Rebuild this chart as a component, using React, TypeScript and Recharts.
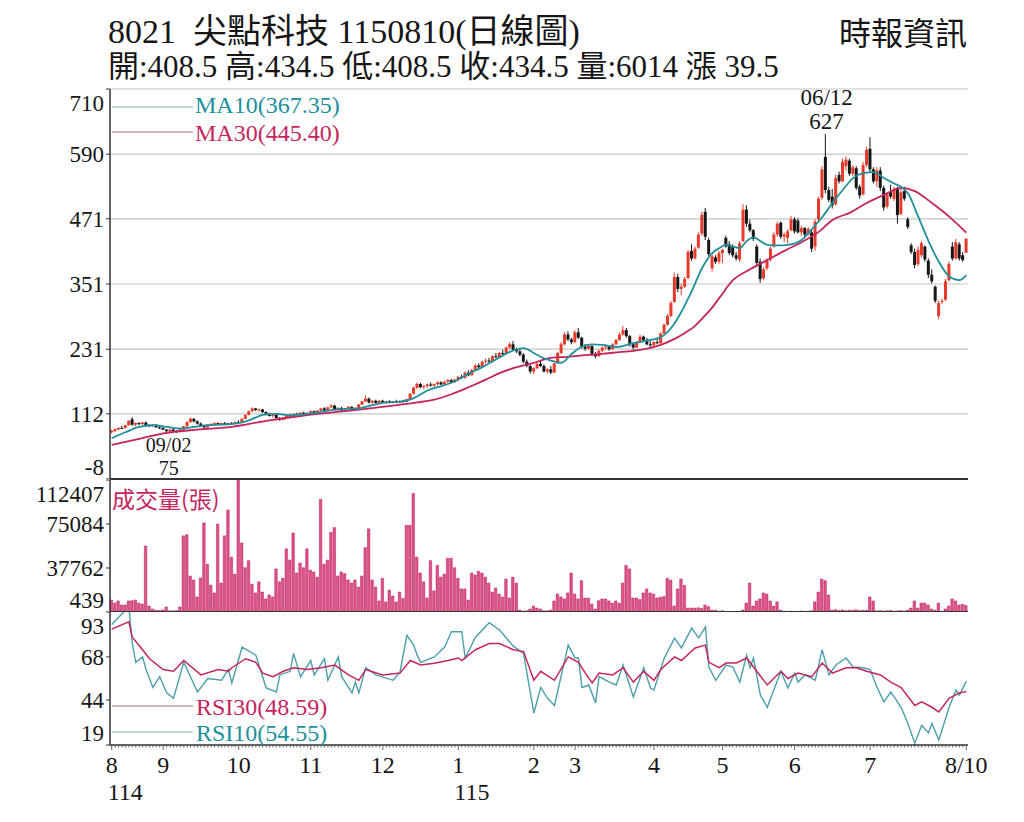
import React from "react";
import {
  ComposedChart,
  Bar,
  Line,
  XAxis,
  YAxis,
  CartesianGrid,
  ReferenceLine,
  ReferenceDot,
} from "recharts";

// OHLC per trading day, [open, high, low, close]
const aug114 = [
  [78, 82, 76, 81], [80, 85, 79, 84], [83, 87, 82, 86], [86, 90, 84, 85], [86, 92, 85, 91],
  [91, 100, 90, 99], [102, 106, 90, 92], [92, 96, 89, 95], [95, 97, 91, 93], [93, 97, 92, 96],
  [96, 98, 90, 91], [91, 93, 88, 90], [90, 93, 88, 92], [92, 93, 86, 87], [87, 89, 84, 86],
];
const sep114 = [
  [86, 88, 82, 83], [83, 84, 75, 80], [80, 84, 78, 83], [83, 85, 79, 80], [80, 82, 77, 79],
  [79, 84, 78, 83], [83, 90, 82, 89], [89, 98, 88, 97], [97, 105, 95, 103], [103, 104, 96, 98],
  [98, 100, 92, 94], [94, 96, 88, 90], [90, 92, 84, 87], [87, 93, 86, 92], [92, 95, 90, 93],
  [93, 96, 91, 95], [95, 96, 91, 92], [92, 96, 91, 95], [95, 97, 92, 93], [93, 96, 92, 95],
  [95, 97, 92, 94], [94, 98, 93, 97],
];
const oct114 = [
  [97, 100, 94, 95], [96, 104, 95, 103], [103, 111, 102, 110], [110, 118, 109, 117], [117, 124, 115, 122],
  [122, 123, 117, 119], [119, 122, 116, 120], [120, 121, 114, 115], [115, 117, 110, 112], [112, 114, 107, 108],
  [108, 112, 105, 110], [110, 111, 103, 104], [104, 106, 99, 101], [101, 106, 100, 105], [105, 110, 104, 109],
  [109, 112, 106, 107], [107, 113, 106, 112], [112, 114, 109, 110], [110, 115, 109, 114], [114, 116, 110, 111],
  [111, 115, 110, 114],
];
const nov114 = [
  [114, 118, 112, 117], [117, 118, 112, 113], [113, 119, 112, 118], [118, 123, 117, 122], [122, 124, 117, 118],
  [118, 125, 117, 124], [124, 130, 122, 127], [127, 129, 119, 120], [120, 124, 118, 123], [123, 125, 117, 118],
  [118, 122, 116, 121], [121, 126, 120, 125], [125, 126, 117, 118], [118, 124, 117, 123], [123, 130, 122, 129],
  [129, 136, 128, 135], [135, 146, 134, 140], [140, 142, 131, 133], [133, 137, 130, 136], [136, 138, 131, 132],
  [132, 137, 131, 136],
];
const dec114 = [
  [136, 138, 132, 133], [133, 136, 130, 135], [135, 137, 131, 132], [132, 136, 131, 135], [135, 138, 132, 133],
  [133, 137, 132, 136], [136, 138, 133, 134], [134, 140, 133, 139], [139, 150, 138, 149], [149, 162, 148, 160],
  [160, 170, 158, 167], [167, 169, 159, 161], [161, 165, 157, 163], [163, 168, 160, 166], [166, 170, 162, 164],
  [164, 168, 161, 167], [167, 172, 164, 170], [170, 172, 165, 166], [166, 172, 165, 171], [171, 176, 169, 174],
  [174, 176, 168, 170], [170, 176, 169, 175],
];
const jan115 = [
  [175, 182, 172, 180], [180, 184, 176, 178], [178, 190, 177, 188], [188, 192, 181, 183], [183, 195, 182, 193],
  [193, 203, 192, 201], [201, 205, 196, 198], [198, 210, 197, 208], [208, 214, 204, 210], [210, 215, 206, 208],
  [208, 220, 207, 218], [218, 224, 214, 216], [216, 226, 215, 224], [224, 230, 220, 222], [222, 236, 221, 234],
  [234, 244, 232, 240], [240, 246, 228, 230], [230, 234, 224, 227], [227, 231, 218, 221], [221, 224, 205, 208],
  [208, 212, 198, 200], [200, 202, 186, 190],
];
const feb115 = [
  [190, 198, 185, 196], [196, 206, 194, 204], [204, 210, 198, 200], [200, 203, 188, 190], [190, 196, 186, 194],
  [194, 200, 185, 188], [188, 206, 187, 205], [205, 226, 204, 224], [224, 244, 222, 240], [240, 262, 238, 258],
  [258, 264, 246, 249], [249, 252, 240, 244],
];
const mar115 = [
  [244, 266, 242, 262], [262, 270, 250, 252], [252, 254, 232, 236], [236, 240, 228, 232], [232, 240, 230, 237],
  [237, 238, 218, 222], [222, 226, 214, 218], [218, 230, 217, 228], [228, 236, 226, 234], [234, 240, 230, 236],
  [236, 238, 228, 231], [231, 242, 230, 240], [240, 250, 238, 248], [248, 262, 246, 258], [258, 274, 256, 266],
  [266, 270, 252, 255], [255, 257, 236, 240], [240, 244, 230, 234], [234, 246, 233, 244], [244, 258, 242, 254],
  [254, 256, 244, 248], [248, 252, 238, 240], [240, 246, 234, 238],
];
const apr115 = [
  [238, 246, 236, 244], [244, 252, 240, 242], [242, 262, 241, 260], [260, 278, 258, 276], [276, 296, 274, 292],
  [292, 320, 290, 316], [318, 372, 316, 364], [364, 370, 336, 342], [342, 352, 330, 346], [346, 364, 344, 360],
  [362, 414, 360, 410], [412, 424, 394, 398], [398, 420, 396, 416], [418, 446, 416, 442], [444, 484, 440, 478],
  [484, 491, 432, 438], [432, 436, 402, 406], [380, 406, 374, 402], [400, 404, 388, 392], [392, 412, 388, 408],
];
const may115 = [
  [408, 416, 390, 414], [436, 440, 418, 420], [424, 430, 404, 408], [420, 424, 400, 404], [404, 410, 394, 398],
  [396, 430, 392, 426], [430, 498, 428, 488], [488, 496, 456, 462], [462, 470, 446, 450], [450, 452, 430, 434],
  [420, 424, 384, 390], [392, 398, 353, 360], [362, 382, 358, 378], [380, 398, 376, 394], [396, 420, 392, 416],
  [420, 446, 418, 442], [442, 466, 438, 462], [464, 466, 434, 438], [438, 446, 428, 442], [436, 452, 426, 448],
  [450, 476, 448, 470],
];
const jun115 = [
  [470, 474, 444, 448], [468, 472, 444, 446], [446, 458, 440, 454], [454, 456, 438, 442], [442, 456, 440, 452],
  [446, 450, 410, 416], [420, 470, 412, 466], [470, 512, 466, 508], [510, 568, 506, 562], [585, 627, 518, 524],
  [524, 530, 502, 506], [512, 526, 490, 496], [498, 552, 496, 546], [552, 558, 536, 540], [540, 582, 538, 576],
  [568, 586, 560, 580], [578, 582, 550, 554], [554, 570, 550, 566], [564, 568, 524, 528], [530, 534, 508, 514],
  [516, 576, 514, 570], [570, 604, 566, 598],
];
const jul115 = [
  [600, 621, 556, 562], [562, 566, 536, 540], [540, 566, 530, 560], [560, 566, 522, 528], [528, 532, 486, 492],
  [494, 520, 490, 516], [520, 534, 508, 512], [508, 530, 504, 526], [526, 530, 462, 478], [480, 528, 478, 520],
  [522, 530, 504, 508], [470, 474, 452, 456], [422, 426, 406, 410], [410, 416, 380, 386], [388, 420, 384, 414],
  [404, 430, 400, 426], [420, 422, 392, 396], [394, 398, 362, 368], [368, 378, 352, 356], [346, 348, 316, 320],
  [292, 320, 286, 316], [318, 324, 314, 320], [322, 360, 320, 356],
];
const aug115 = [
  [358, 392, 356, 388], [420, 428, 394, 398], [398, 434, 396, 428], [424, 428, 394, 398], [404, 410, 392, 395],
  [408.5, 434.5, 408.5, 434.5],
];

// 成交量(張)
const volAug114 = [10600, 8000, 9800, 6400, 6400, 9800, 10000, 10600, 8000, 7200, 56400, 5500, 3000, 2000, 1800];
const volSep114 = [2200, 4700, 1500, 1400, 1600, 4700, 65000, 66000, 31000, 27600, 13200, 29300, 76000, 41000, 23300, 16600, 75000, 25000, 65000, 87000, 47000, 32600];
const volOct114 = [112407, 59000, 38000, 44000, 24000, 16600, 26000, 17400, 11500, 14900, 13200, 37000, 26000, 29000, 54000, 44500, 67500, 33500, 42000, 38000, 54000];
const volNov114 = [36000, 34400, 30000, 96000, 41000, 44500, 68000, 72000, 31000, 34400, 33000, 27600, 25000, 27600, 21600, 31000, 55000, 71000, 27600, 21600, 9800];
const volDec114 = [29000, 9000, 19000, 14000, 9000, 17400, 12000, 74000, 74000, 101000, 47000, 33500, 26000, 12300, 44000, 18300, 40000, 30000, 32600, 46000, 46000, 38000];
const volJan115 = [29000, 20000, 20000, 10600, 33500, 31800, 35000, 33500, 30000, 25000, 17400, 20800, 15700, 13200, 28400, 12300, 30000, 25000, 2100, 1300, 1500, 3000];
const volFeb115 = [5500, 3800, 3000, 1500, 1500, 2100, 9800, 15700, 13200, 11500, 16600, 33500];
const volMar115 = [15700, 11500, 27000, 12300, 12300, 7200, 3000, 10000, 11500, 11500, 9800, 8000, 9800, 8000, 25000, 40000, 37000, 12300, 12300, 11000, 16600, 20000, 16600];
const volApr115 = [15700, 12300, 13000, 13500, 29000, 27500, 5500, 20000, 28400, 23000, 3800, 3800, 3800, 4000, 3500, 6400, 5000, 2000, 2000, 1200];
const volMay115 = [1500, 800, 600, 700, 900, 600, 2100, 8000, 25000, 5500, 9800, 11500, 16600, 15700, 9800, 5500, 9000, 2100, 1100, 900, 1200];
const volJun115 = [800, 1000, 1300, 900, 1100, 1500, 9000, 17400, 28400, 27000, 14900, 2100, 2400, 1800, 2200, 1600, 2000, 1900, 2300, 1700, 1800, 2000];
const volJul115 = [13200, 9800, 1400, 1600, 1300, 1500, 1700, 1200, 1400, 1600, 1300, 2100, 3800, 9800, 3800, 8000, 8000, 6400, 3000, 2000, 8000, 1000, 3000];
const volAug115 = [5500, 11500, 9800, 6400, 7000, 6014];

// moving averages and RSI, [day index, value]
const ma10Pts = [
  [0, 67], [4, 78], [8, 88], [12, 91], [16, 88], [20, 85], [24, 88], [28, 91], [32, 92], [36, 94],
  [40, 100], [44, 110], [48, 112], [52, 109], [56, 111], [60, 114], [64, 119], [68, 121], [72, 122], [76, 128],
  [80, 133], [84, 134], [88, 141], [92, 155], [96, 163], [100, 172], [104, 186], [108, 198], [112, 212], [116, 226],
  [120, 233], [123, 224], [126, 214], [128, 210], [131, 206], [134, 222], [137, 236], [140, 240], [143, 239], [147, 235],
  [152, 242], [157, 248], [160, 253], [163, 270], [166, 300], [169, 338], [172, 380], [175, 408], [177, 417], [179, 423],
  [181, 420], [183, 417], [185, 430], [187, 437], [189, 430], [191, 423], [194, 422], [197, 423], [201, 432], [204, 452],
  [207, 474], [210, 500], [213, 524], [216, 546], [219, 555], [222, 557], [225, 546], [228, 536], [230, 530], [232, 518],
  [235, 475], [238, 430], [241, 392], [244, 365], [247, 358], [249, 367.35],
];
const ma30Pts = [
  [0, 55], [8, 66], [16, 77], [25, 83], [35, 88], [45, 99], [55, 108], [65, 115], [74, 121], [82, 127],
  [89, 133], [94, 138], [99, 148], [104, 161], [109, 175], [113, 187], [118, 198], [123, 206], [128, 215], [133, 217],
  [138, 220], [142, 222], [147, 225], [152, 228], [156, 232], [160, 239], [164, 250], [167, 261], [170, 274], [172, 287],
  [175, 308], [177, 325], [181, 358], [186, 378], [191, 395], [196, 412], [201, 428], [206, 447], [210, 469], [215, 482],
  [220, 500], [225, 515], [230, 528], [234, 522], [239, 500], [244, 475], [249, 445.4],
];
const rsi30Pts = [
  [0, 83.5], [5, 87.5], [6, 79], [9, 72], [11, 67], [15, 61], [18, 60], [21, 66], [26, 58], [31, 61],
  [34, 60], [35, 62], [39, 67], [42, 65], [44, 59], [47, 57], [50, 60], [53, 62], [57, 61], [61, 62],
  [65, 63.5], [69, 58], [72, 55], [74, 61], [79, 58], [84, 59], [87, 66], [90, 63.5], [94, 64.5], [98, 66],
  [101, 67.4], [102, 66], [106, 72], [110, 75.5], [113, 75.5], [117, 72], [120, 71], [123, 55], [125, 60], [129, 55],
  [133, 68], [136, 65], [138, 59], [140, 53.5], [142, 59], [146, 58], [149, 62], [152, 54], [155, 60], [158, 55],
  [160, 61], [164, 68], [166, 66], [170, 73], [173, 74.6], [174, 65], [177, 62], [179, 64.6], [182, 64.6], [185, 67.4],
  [187, 62.4], [191, 52.4], [195, 60], [197, 56], [200, 59], [204, 57], [207, 64.6], [210, 59], [214, 62], [217, 62],
  [220, 60], [224, 58], [227, 54], [230, 51], [234, 41], [236, 43], [239, 40], [241, 37.4], [244, 45], [247, 48],
  [249, 48.59],
];
const rsi10Pts = [
  [0, 86], [5, 96], [6, 75.5], [7, 65], [9, 68], [10, 61], [12, 51], [14, 57], [16, 48], [18, 45],
  [21, 65], [25, 48.5], [28, 56], [32, 55], [34, 61], [35, 53.5], [38, 73.5], [42, 69], [45, 50.7], [48, 48.5],
  [49, 58], [52, 60], [53, 70], [55, 57], [58, 66], [59, 58], [62, 67], [63, 55], [66, 68], [67, 57],
  [70, 48], [71, 54], [72, 48], [74, 62], [77, 58], [82, 55], [84, 59.5], [86, 80], [88, 74.6], [89, 69],
  [90, 65], [94, 68], [97, 73.5], [99, 82], [102, 82], [103, 67.4], [106, 79], [110, 87], [113, 83], [117, 74],
  [120, 70], [123, 36.8], [125, 51], [127, 45], [129, 41], [133, 74.6], [135, 67.4], [136, 67.4], [137, 51], [139, 52.4],
  [141, 42.4], [142, 57], [145, 54], [147, 52.4], [149, 63.5], [152, 45.7], [155, 62], [157, 50.7], [158, 49.6], [161, 67.4],
  [164, 78.5], [166, 73], [169, 84], [171, 78.5], [173, 84.7], [174, 62.4], [176, 55], [179, 63.5], [181, 62.4], [183, 54],
  [185, 69], [186, 62], [187, 67.4], [189, 46.8], [191, 40], [195, 60], [197, 50.7], [199, 59], [200, 54], [202, 58],
  [205, 55], [207, 72], [209, 58], [211, 63.5], [214, 67.4], [216, 62.4], [219, 62], [221, 61], [223, 51], [225, 43],
  [227, 48.5], [230, 40], [232, 31], [234, 20], [236, 30], [238, 25.7], [239, 31], [241, 21.8], [244, 40], [246, 49.6],
  [247, 46.8], [249, 54.55],
];

const priceTicks = [-8, 112, 231, 351, 471, 590, 710];
const volTicks = [439, 37762, 75084, 112407];
const rsiTicks = [19, 44, 68, 93];
const monthTicks = [0, 15, 37, 58, 79, 101, 123, 135, 158, 178, 199, 221, 249];
const monthLabels = ["8", "9", "10", "11", "12", "1", "2", "3", "4", "5", "6", "7", "8/10"];
const yearLabels = ["114", "", "", "", "", "115", "", "", "", "", "", "", ""];

const SERIF = "'Liberation Serif', 'Noto Sans CJK TC', serif";
const CJK = "'Noto Sans CJK TC', 'Liberation Serif', sans-serif";
const RED = "#e63b2b";
const BLACK = "#161616";
const TEAL = "#21909d";
const CRIMSON = "#c6245f";
const INK = "#161616";

const candles = [
  ...aug114, ...sep114, ...oct114, ...nov114, ...dec114, ...jan115,
  ...feb115, ...mar115, ...apr115, ...may115, ...jun115, ...jul115, ...aug115,
];
const volumes = [
  ...volAug114, ...volSep114, ...volOct114, ...volNov114, ...volDec114, ...volJan115,
  ...volFeb115, ...volMar115, ...volApr115, ...volMay115, ...volJun115, ...volJul115, ...volAug115,
];

const m10 = new Map(ma10Pts.map(([i, v]) => [i, v]));
const m30 = new Map(ma30Pts.map(([i, v]) => [i, v]));
const r10 = new Map(rsi10Pts.map(([i, v]) => [i, v]));
const r30 = new Map(rsi30Pts.map(([i, v]) => [i, v]));

const rows = candles.map(([o, h, l, c], i) => ({
  i,
  o,
  h,
  l,
  c,
  hl: [l, h],
  vol: volumes[i],
  ma10: m10.get(i) ?? null,
  ma30: m30.get(i) ?? null,
  rsi10: r10.get(i) ?? null,
  rsi30: r30.get(i) ?? null,
}));
const allDays = rows.map((r) => r.i);

const W = 1024;
const MARGIN = { left: 0, right: 56 };

function Candle(props: any) {
  const { x, y, width, height, payload } = props;
  if (x == null || y == null || !payload) return null;
  const { o, h, l, c } = payload;
  const top = Math.min(y, y + height);
  const span = Math.abs(height);
  const range = h - l;
  const py = (v: number) => (range > 0 ? top + ((h - v) / range) * span : top);
  const color = c >= o ? RED : BLACK;
  const cx = x + width / 2;
  const bTop = py(Math.max(o, c));
  const bBot = py(Math.min(o, c));
  return (
    <g>
      <line x1={cx} x2={cx} y1={top} y2={top + span} stroke={color} strokeWidth={1} />
      <rect x={x} y={bTop} width={width} height={Math.max(bBot - bTop, 1)} fill={color} />
    </g>
  );
}

function yTick(lo: number, hi: number) {
  return (props: any) => {
    const { x, y, payload } = props;
    const v = payload.value;
    const dy = v === hi ? 14 : v === lo ? -12 : 0;
    return (
      <text x={x} y={y + dy + 8} textAnchor="end" fontSize={23} fontFamily={SERIF} fill={INK}>
        {v}
      </text>
    );
  };
}

function DayTick(props: any) {
  const { x, y, payload } = props;
  const k = monthTicks.indexOf(payload.value);
  return (
    <g>
      <line x1={x} x2={x} y1={y} y2={y + (k >= 0 ? 5 : 2.5)} stroke="#444" strokeWidth={0.8} />
      {k >= 0 && (
        <text x={x} y={y + 28} textAnchor="middle" fontSize={24} fontFamily={SERIF} fill={INK}>
          {monthLabels[k]}
        </text>
      )}
      {k >= 0 && yearLabels[k] && (
        <text x={x - 4} y={y + 55} textAnchor="start" fontSize={24} fontFamily={SERIF} fill={INK}>
          {yearLabels[k]}
        </text>
      )}
    </g>
  );
}

const peakLabel = (p: any) => {
  const { x, y } = p.viewBox;
  return (
    <g fontFamily={SERIF} fontSize={23} fill={INK} textAnchor="middle">
      <text x={x + 1} y={y - 29}>06/12</text>
      <text x={x + 1} y={y - 5}>627</text>
    </g>
  );
};

const lowLabel = (p: any) => {
  const { x, y } = p.viewBox;
  return (
    <g fontFamily={SERIF} fontSize={20} fill={INK} textAnchor="middle">
      <text x={x + 2} y={y + 18}>09/02</text>
      <text x={x + 2} y={y + 41}>75</text>
    </g>
  );
};

export default function App() {
  const frame = (
    <YAxis
      yAxisId="frame"
      orientation="right"
      width={0}
      domain={[0, 1]}
      tick={false}
      tickLine={false}
      axisLine={{ stroke: "#222", strokeWidth: 1.5 }}
    />
  );
  const leftAxis = {
    width: 110,
    tickSize: 4,
    interval: 0 as const,
    tickLine: { stroke: "#333" },
    axisLine: { stroke: "#333", strokeWidth: 1.5 },
    allowDataOverflow: true,
  };

  return (
    <div style={{ position: "absolute", left: 0, top: 0, width: W, height: 822, background: "#fff", overflow: "hidden" }}>
      {/* price panel */}
      <div style={{ position: "absolute", left: 0, top: 79 }}>
        <ComposedChart width={W} height={420} data={rows} margin={{ ...MARGIN, top: 10, bottom: 20 }}>
          <CartesianGrid vertical={false} stroke="#c6c6c6" strokeWidth={1.2} />
          <XAxis dataKey="i" type="category" scale="band" hide />
          <YAxis domain={[-8, 710]} ticks={priceTicks} tick={yTick(-8, 710)} {...leftAxis} />
          {frame}
          <Bar dataKey="hl" barSize={3} shape={(p: any) => <Candle {...p} />} isAnimationActive={false} />
          <Line dataKey="ma30" type="monotone" stroke={CRIMSON} strokeWidth={1.8} dot={false} connectNulls isAnimationActive={false} />
          <Line dataKey="ma10" type="monotone" stroke={TEAL} strokeWidth={1.8} dot={false} connectNulls isAnimationActive={false} />
          <ReferenceLine y={-8} stroke="#333" strokeWidth={2} />
          <ReferenceDot x={208} y={627} r={0} fill="none" stroke="none" label={peakLabel} />
          <ReferenceDot x={16} y={75} r={0} fill="none" stroke="none" label={lowLabel} />
        </ComposedChart>
      </div>

      {/* volume panel */}
      <div style={{ position: "absolute", left: 0, top: 480 }}>
        <ComposedChart width={W} height={132} data={rows} margin={{ ...MARGIN, top: 0, bottom: 0 }}>
          <XAxis dataKey="i" type="category" scale="band" hide />
          <YAxis domain={[439, 112407]} ticks={volTicks} tick={yTick(439, 112407)} {...leftAxis} />
          {frame}
          <Bar dataKey="vol" barSize={2.5} fill="#e4508a" stroke="#a8205a" strokeWidth={0.5} isAnimationActive={false} />
          <ReferenceLine y={439} stroke="#333" strokeWidth={2} />
        </ComposedChart>
      </div>

      {/* RSI panel */}
      <div style={{ position: "absolute", left: 0, top: 612 }}>
        <ComposedChart width={W} height={193} data={rows} margin={{ ...MARGIN, top: 0, bottom: 0 }}>
          <XAxis
            dataKey="i"
            type="category"
            scale="band"
            ticks={allDays}
            interval={0}
            height={60}
            tickLine={false}
            tickSize={0}
            tickMargin={0}
            axisLine={{ stroke: "#333", strokeWidth: 1.5 }}
            tick={(p: any) => <DayTick {...p} />}
          />
          <YAxis domain={[19, 93]} ticks={rsiTicks} tick={yTick(19, 93)} {...leftAxis} />
          {frame}
          <Line dataKey="rsi10" type="linear" stroke="#4b9fab" strokeWidth={1.4} dot={false} connectNulls isAnimationActive={false} />
          <Line dataKey="rsi30" type="linear" stroke={CRIMSON} strokeWidth={1.5} dot={false} connectNulls isAnimationActive={false} />
        </ComposedChart>
      </div>

      {/* titles and legends */}
      <svg width={W} height={822} style={{ position: "absolute", left: 0, top: 0, pointerEvents: "none" }}>
        <text x={108} y={43} fontSize={34} fontFamily={SERIF} fill={INK}>
          {"8021\u00a0\u00a0尖點科技 1150810(日線圖)"}
        </text>
        <text x={108} y={77} fontSize={31} fontFamily={SERIF} fill={INK}>
          開:408.5 高:434.5 低:408.5 收:434.5 量:6014 漲 39.5
        </text>
        <text x={839} y={45} fontSize={32} fontFamily={CJK} fill={INK}>
          時報資訊
        </text>

        <line x1={112} x2={193} y1={107} y2={107} stroke="#86aeb0" strokeWidth={1.2} />
        <text x={195} y={113} fontSize={24} fontFamily={SERIF} fill={TEAL}>MA10(367.35)</text>
        <line x1={112} x2={193} y1={132} y2={132} stroke="#aa6c84" strokeWidth={1.2} />
        <text x={195} y={141} fontSize={24} fontFamily={SERIF} fill={CRIMSON}>MA30(445.40)</text>

        <text x={112} y={508} fontSize={23} fontFamily={CJK} fill={CRIMSON}>成交量(張)</text>

        <line x1={112} x2={193} y1={706} y2={706} stroke="#aa6c84" strokeWidth={1.2} />
        <text x={196} y={715} fontSize={24} fontFamily={SERIF} fill={CRIMSON}>RSI30(48.59)</text>
        <line x1={112} x2={193} y1={732} y2={732} stroke="#86aeb0" strokeWidth={1.2} />
        <text x={196} y={741} fontSize={24} fontFamily={SERIF} fill={TEAL}>RSI10(54.55)</text>
      </svg>
    </div>
  );
}
